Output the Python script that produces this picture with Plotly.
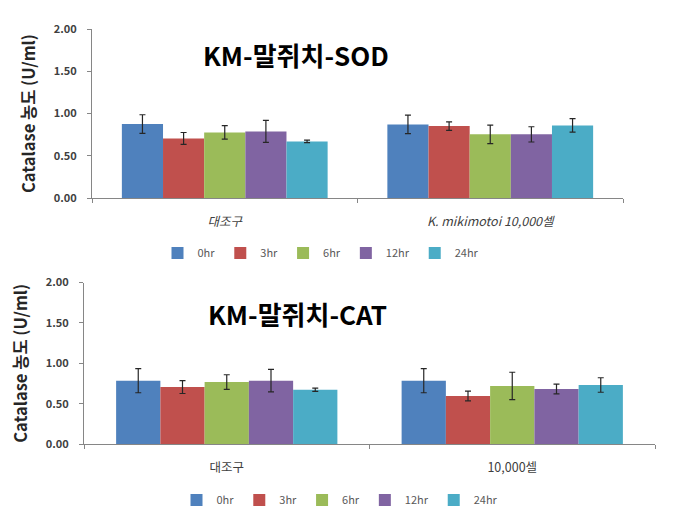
import plotly.graph_objects as go

series = ["0hr", "3hr", "6hr", "12hr", "24hr"]
colors = ["#4F81BD", "#C0504D", "#9BBB59", "#8064A2", "#4BACC6"]

sod_categories = ["<i>대조구</i>", "<i>K. mikimotoi 10,000셀</i>"]
sod_values = {
    "0hr": [0.875, 0.871],
    "3hr": [0.705, 0.851],
    "6hr": [0.776, 0.753],
    "12hr": [0.788, 0.753],
    "24hr": [0.670, 0.859],
}
sod_errors = {
    "0hr": [0.11, 0.11],
    "3hr": [0.07, 0.05],
    "6hr": [0.08, 0.11],
    "12hr": [0.13, 0.09],
    "24hr": [0.015, 0.08],
}

cat_categories = ["대조구", "10,000셀"]
cat_values = {
    "0hr": [0.785, 0.785],
    "3hr": [0.706, 0.595],
    "6hr": [0.768, 0.719],
    "12hr": [0.785, 0.681],
    "24hr": [0.673, 0.731],
}
cat_errors = {
    "0hr": [0.15, 0.15],
    "3hr": [0.08, 0.06],
    "6hr": [0.09, 0.17],
    "12hr": [0.14, 0.06],
    "24hr": [0.02, 0.09],
}

y_ticks = [0, 0.5, 1.0, 1.5, 2.0]
y_title = "Catalase 농도 (U/ml)"
title_top = "KM-말쥐치-SOD"
title_bottom = "KM-말쥐치-CAT"

FONT = "Noto Sans CJK KR"
OFF = 8  # page body margin of the browser
W, H = 685 - OFF, 517 - OFF


def px(x):
    return (x - OFF) / W


def py(y):
    return 1 - (y - OFF) / H


fig = go.Figure()
for s, c in zip(series, colors):
    fig.add_trace(go.Bar(
        x=sod_categories, y=sod_values[s], name=s, marker=dict(color=c, line=dict(width=0)),
        error_y=dict(type="data", array=sod_errors[s], color="#262626", thickness=1.2, width=3),
        xaxis="x", yaxis="y", legend="legend", offsetgroup=s,
    ))
for s, c in zip(series, colors):
    fig.add_trace(go.Bar(
        x=cat_categories, y=cat_values[s], name=s, marker=dict(color=c, line=dict(width=0)),
        error_y=dict(type="data", array=cat_errors[s], color="#262626", thickness=1.2, width=3),
        xaxis="x2", yaxis="y2", legend="legend2", offsetgroup=s,
    ))

axis_common = dict(showline=True, linecolor="#868686", linewidth=1, showgrid=False,
                   zeroline=False, ticks="outside", ticklen=4, tickcolor="#868686",
                   automargin=False)

ytitle = dict(text=y_title, font=dict(size=16.5, weight="bold", color="#262626"), standoff=13)
legend_common = dict(orientation="h", xanchor="center", yanchor="middle",
                     font=dict(size=11, color="#595959"),
                     itemwidth=30, tracegroupgap=0, bgcolor="rgba(0,0,0,0)")

fig.update_layout(
    width=W, height=H,
    margin=dict(l=0, r=0, t=0, b=0, autoexpand=False),
    paper_bgcolor="white", plot_bgcolor="white",
    barmode="group", bargap=0.225, bargroupgap=0,
    font=dict(family=FONT, color="#404040"),
    xaxis=dict(domain=[px(92), px(623)], anchor="y", tickson="boundaries",
               tickfont=dict(size=12.5, color="#404040"), ticklabelstandoff=12, **axis_common),
    yaxis=dict(domain=[py(198), py(29)], anchor="x", range=[0, 2], tickvals=y_ticks,
               tickformat=".2f", tickfont=dict(size=11, color="#404040", weight="bold"),
               ticklabelstandoff=8, title=ytitle, **axis_common),
    xaxis2=dict(domain=[px(84), px(655)], anchor="y2", tickson="boundaries",
                tickfont=dict(size=12.5, color="#404040"), ticklabelstandoff=12, **axis_common),
    yaxis2=dict(domain=[py(444), py(282.6)], anchor="x2", range=[0, 2], tickvals=y_ticks,
                tickformat=".2f", tickfont=dict(size=11, color="#404040", weight="bold"),
                ticklabelstandoff=8, title=ytitle, **axis_common),
    legend=dict(x=px(321), y=py(253), **legend_common),
    legend2=dict(x=px(340), y=py(500), **legend_common),
    annotations=[
        dict(text=f"<b>{title_top}</b>", x=px(296), y=py(55), xref="paper", yref="paper",
             xanchor="center", yanchor="middle",
             showarrow=False, font=dict(size=26, color="#000000", family=FONT)),
        dict(text=f"<b>{title_bottom}</b>", x=px(297), y=py(313), xref="paper", yref="paper",
             xanchor="center", yanchor="middle",
             showarrow=False, font=dict(size=26, color="#000000", family=FONT)),
    ],
)

fig.write_html("out.html")
